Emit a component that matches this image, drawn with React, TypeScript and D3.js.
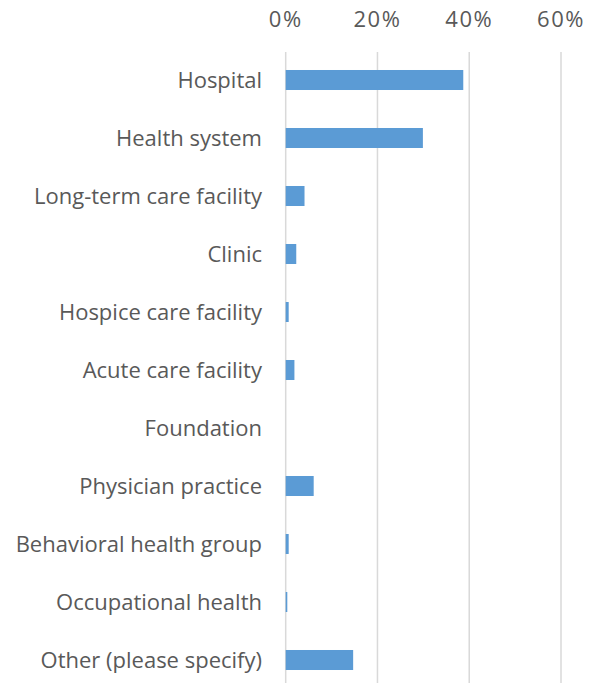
import React from "react";
import * as d3 from "d3";

const categories = [
  "Hospital",
  "Health system",
  "Long-term care facility",
  "Clinic",
  "Hospice care facility",
  "Acute care facility",
  "Foundation",
  "Physician practice",
  "Behavioral health group",
  "Occupational health",
  "Other (please specify)",
];
const values = [38.7, 29.9, 4.1, 2.3, 0.65, 1.9, 0, 6.1, 0.65, 0.35, 14.7];
const ticks = [0, 20, 40, 60];

const W = 593;
const H = 683;
const FONT = "'Open Sans', sans-serif";

export default function App() {
  const x = d3.scaleLinear().domain([0, 60]).range([285.7, 561]);
  const y = d3
    .scaleBand<string>()
    .domain(categories)
    .range([51, 689])
    .paddingInner(0.655)
    .paddingOuter(0.3275);
  return (
    <svg
      width={W}
      height={H}
      style={{ position: "absolute", left: 0, top: 0, background: "#fff" }}
    >
      {ticks.map((t) => (
        <g key={t}>
          <line
            x1={x(t)}
            x2={x(t)}
            y1={52}
            y2={H}
            stroke="#d9d9d9"
            strokeWidth={1.5}
          />
          <text
            x={x(t)}
            y={27}
            textAnchor="middle"
            fontFamily={FONT}
            fontSize={22}
            letterSpacing={1.5}
            fill="#595959"
          >
            {t}%
          </text>
        </g>
      ))}
      {categories.map((c, i) => (
        <g key={c}>
          <rect
            x={x(0)}
            y={y(c)!}
            width={x(values[i]) - x(0)}
            height={y.bandwidth()}
            fill="#5b9bd5"
          />
          <text
            x={262}
            y={y(c)! + y.bandwidth() / 2}
            dy="0.36em"
            textAnchor="end"
            fontFamily={FONT}
            fontSize={22}
            fill="#595959"
          >
            {c}
          </text>
        </g>
      ))}
    </svg>
  );
}
